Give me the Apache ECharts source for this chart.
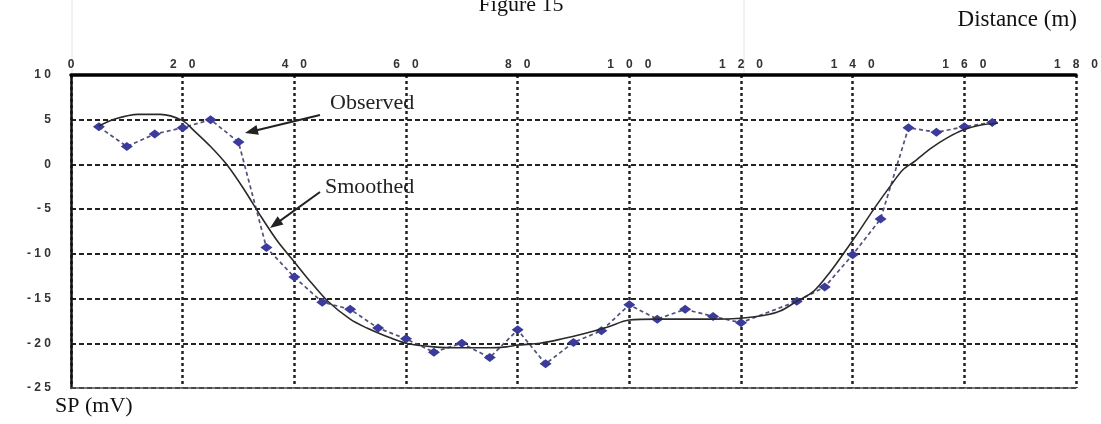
<!DOCTYPE html>
<html>
<head>
<meta charset="utf-8">
<script src="https://cdn.jsdelivr.net/npm/echarts@6/dist/echarts.min.js"></script>
<style>
html,body{margin:0;padding:0;background:#fff;}
#chart{width:1101px;height:424px;}
</style>
</head>
<body>
<div id="chart"></div>
<script>
// ---- data ----
const observedX = [5,10,15,20,25,30,35,40,45,50,55,60,65,70,75,80,85,90,95,100,105,110,115,120,130,135,140,145,150,155,160,165];
const observedY = [4.2,2.0,3.4,4.1,5.0,2.5,-9.3,-12.6,-15.4,-16.2,-18.3,-19.5,-21.0,-20.0,-21.6,-18.5,-22.3,-19.9,-18.6,-15.7,-17.3,-16.2,-17.0,-17.7,-15.3,-13.7,-10.1,-6.1,4.1,3.6,4.2,4.7];

const smoothX = [5,8,12,16,20,22,25,28,31,34,37,40,43,46,50,53,56,60,65,70,75,78,80,84,88,92,96,100,105,110,115,120,124,127,130,133,136,139,141,144,147,149,151,154,157,160,163,166];
const smoothY = [4.3,5.1,5.6,5.6,4.9,3.8,2.0,-0.1,-2.8,-5.8,-8.6,-10.9,-13.2,-15.3,-17.3,-18.3,-19.1,-20.0,-20.4,-20.5,-20.5,-20.4,-20.2,-20.0,-19.5,-18.9,-18.2,-17.4,-17.3,-17.3,-17.3,-17.2,-16.9,-16.4,-15.3,-14.2,-12.0,-9.4,-7.6,-4.8,-2.2,-0.6,0.3,1.8,3.0,3.9,4.4,4.6];

const xTicks = [0,20,40,60,80,100,120,140,160,180];
const yTicks = [10,5,0,-5,-10,-15,-20,-25];

const titleText = 'Figure 15';
const xName = 'Distance (m)';
const yName = 'SP (mV)';
const labelObserved = 'Observed';
const labelSmoothed = 'Smoothed';

// ---- chart ----
const chart = echarts.init(document.getElementById('chart'));
const serif = '"Liberation Serif","Times New Roman",serif';

function spaced(v, sep){ return String(v).split('').join(sep); }

function arrow(x1,y1,x2,y2){
  const dx = x2-x1, dy = y2-y1, L = Math.sqrt(dx*dx+dy*dy);
  const ux = dx/L, uy = dy/L, hl = 13, hw = 5;
  const bx = x2-ux*hl, by = y2-uy*hl;
  return [
    {type:'line', shape:{x1:x1,y1:y1,x2:bx+ux*2,y2:by+uy*2}, style:{stroke:'#222',lineWidth:2}},
    {type:'polygon', shape:{points:[[x2,y2],[bx-uy*hw,by+ux*hw],[bx+uy*hw,by-ux*hw]]}, style:{fill:'#222'}}
  ];
}

const option = {
  animation:false,
  backgroundColor:'#fff',
  grid:{left:71,right:22,top:75,bottom:36},
  xAxis:[
    {type:'value',position:'top',min:0,max:180,interval:20,
     axisLine:{show:true,onZero:false,lineStyle:{color:'#000',width:3.5}},
     axisTick:{show:false},
     axisLabel:{fontFamily:'"Liberation Sans",Arial,sans-serif',fontSize:12,fontWeight:'bold',color:'#333',margin:4,
       formatter:v=>xTicks.indexOf(v)>=0?spaced(v,'\u2002\u2002'):''},
     splitLine:{show:true,lineStyle:{color:'#222',width:2.5,type:[3,3]}}},
    {type:'value',position:'bottom',min:0,max:180,interval:20,
     axisLine:{show:true,onZero:false,lineStyle:{color:'#555',width:1.5}},
     axisTick:{show:false},axisLabel:{show:false},splitLine:{show:false}}
  ],
  yAxis:{type:'value',min:-25,max:10,interval:5,
    axisLine:{show:true,onZero:false,lineStyle:{color:'#111',width:2.5}},
    axisTick:{show:false},
    axisLabel:{fontFamily:'"Liberation Sans",Arial,sans-serif',fontSize:12,fontWeight:'bold',color:'#333',margin:20,
      formatter:v=>yTicks.indexOf(v)>=0?spaced(v,' '):''},
    splitLine:{show:true,lineStyle:{color:'#222',width:2,type:[5,3]}}
  },
  series:[
    {type:'line',name:labelObserved,xAxisIndex:0,
     data:observedX.map((x,i)=>[x,observedY[i]]),
     symbol:'diamond',symbolSize:[12,9],
     itemStyle:{color:'#3b3b9b'},
     lineStyle:{color:'#50507a',width:1.7,type:[4,3]},z:3},
    {type:'line',name:labelSmoothed,xAxisIndex:0,
     data:smoothX.map((x,i)=>[x,smoothY[i]]),
     symbol:'none',smooth:0.3,
     lineStyle:{color:'#2a2a2a',width:1.6},z:4}
  ],
  graphic:[
    {type:'line',shape:{x1:72,y1:0,x2:72,y2:73},style:{stroke:'#e4e4e4',lineWidth:1}},
    {type:'line',shape:{x1:744,y1:0,x2:744,y2:73},style:{stroke:'#e4e4e4',lineWidth:1}},
    {type:'text',x:521,y:5,style:{text:titleText,font:'22px '+serif,fill:'#111',textAlign:'center',textVerticalAlign:'middle'}},
    {type:'text',x:1077,y:20,style:{text:xName,font:'23px '+serif,fill:'#111',textAlign:'right',textVerticalAlign:'middle'}},
    {type:'text',x:55,y:406,style:{text:yName,font:'22px '+serif,fill:'#111',textAlign:'left',textVerticalAlign:'middle'}},
    {type:'text',x:330,y:103,style:{text:labelObserved,font:'22px '+serif,fill:'#222',textAlign:'left',textVerticalAlign:'middle'}},
    {type:'text',x:325,y:187,style:{text:labelSmoothed,font:'22px '+serif,fill:'#222',textAlign:'left',textVerticalAlign:'middle'}}
  ].concat(arrow(320,115,245,133)).concat(arrow(320,192,270,228))
};
chart.setOption(option);
</script>
</body>
</html>
